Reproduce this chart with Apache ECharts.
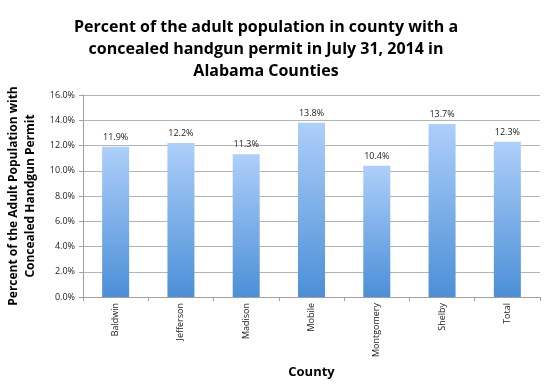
<!DOCTYPE html>
<html><head><meta charset="utf-8">
<script src="https://cdn.jsdelivr.net/npm/echarts@6/dist/echarts.min.js"></script>
<style>html,body{margin:0;padding:0;background:#fff}#c{width:554px;height:390px}</style>
</head><body><div id="c"></div>
<script>
var categories = ['Baldwin','Jefferson','Madison','Mobile','Montgomery','Shelby','Total'];
var values = [11.9, 12.2, 11.3, 13.8, 10.4, 13.7, 12.3];
var yTicks = {min: 0, max: 16, interval: 2};

var chart = echarts.init(document.getElementById('c'), null, {renderer: 'canvas'});
var font = '"Open Sans", "Liberation Sans", sans-serif';
chart.setOption({
  animation: false,
  title: {
    text: 'Percent of the adult population in county with a\nconcealed handgun permit in July 31, 2014 in\nAlabama Counties',
    left: 261, top: 11, textAlign: 'center',
    textStyle: {fontFamily: font, fontWeight: 'bold', fontSize: 16, lineHeight: 22, color: '#000'}
  },
  grid: {left: 83, right: 14, top: 95, bottom: 93, containLabel: false, outerBoundsMode: 'none'},
  xAxis: {
    type: 'category', data: categories,
    name: 'County', nameLocation: 'middle', nameGap: 69,
    nameTextStyle: {fontFamily: font, fontWeight: 'bold', fontSize: 13, color: '#000'},
    axisLine: {lineStyle: {color: '#a0a0a0'}},
    axisTick: {show: true, length: 4, lineStyle: {color: '#a0a0a0'}},
    axisLabel: {rotate: 90, fontFamily: font, fontSize: 9, color: '#222', margin: 6}
  },
  yAxis: {
    type: 'value', min: yTicks.min, max: yTicks.max, interval: yTicks.interval,
    name: 'Percent of the Adult Population with\nConcealed Handgun Permit',
    nameLocation: 'middle', nameGap: 39, nameRotate: 90,
    nameTextStyle: {fontFamily: font, fontWeight: 'bold', fontSize: 12, lineHeight: 17, color: '#000'},
    axisLine: {show: true, lineStyle: {color: '#a0a0a0'}},
    axisTick: {show: true, length: 4, lineStyle: {color: '#a0a0a0'}},
    splitLine: {lineStyle: {color: '#b4b4b4'}},
    axisLabel: {formatter: function(v){return v.toFixed(1)+'%';}, fontFamily: font, fontSize: 9, color: '#222', margin: 8}
  },
  series: [{
    type: 'bar', data: values, barWidth: 27,
    itemStyle: {color: new echarts.graphic.LinearGradient(0,0,0,1,[
      {offset: 0, color: '#aecffa'}, {offset: 1, color: '#4b8fd7'}])},
    label: {show: true, position: 'top', distance: 5, formatter: function(p){return p.value.toFixed(1)+'%';},
      fontFamily: font, fontSize: 9, color: '#222'}
  }]
});
</script></body></html>
